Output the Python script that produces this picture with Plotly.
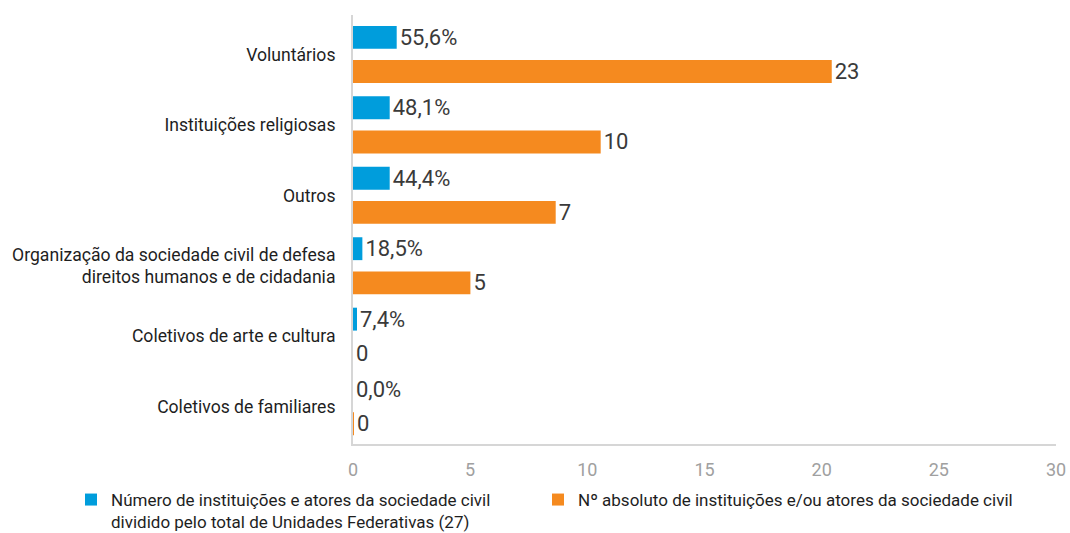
import plotly.graph_objects as go

# ---- data ----
categories = [
    "Voluntários",
    "Instituições religiosas",
    "Outros",
    "Organização da sociedade civil de defesa<br>direitos humanos e de cidadania",
    "Coletivos de arte e cultura",
    "Coletivos de familiares",
]
# bar lengths as drawn on the 0-30 axis
blue_lengths = [1.865, 1.566, 1.566, 0.40, 0.17, 0.0]
orange_lengths = [20.43, 10.57, 8.65, 5.01, 0.0, 0.04]
# labels printed next to the bars
blue_labels = ["55,6%", "48,1%", "44,4%", "18,5%", "7,4%", "0,0%"]
orange_labels = ["23", "10", "7", "5", "0", "0"]

blue_name = "Número de instituições e atores da sociedade civil<br>dividido pelo total de Unidades Federativas (27)"
orange_name = "Nº absoluto de instituições e/ou atores da sociedade civil"
x_ticks = [0, 5, 10, 15, 20, 25, 30]

BLUE = "#009ddc"
ORANGE = "#f58a1f"
FONT = "Roboto"

W, H = 1070, 533

fig = go.Figure()
fig.add_trace(go.Bar(
    y=categories, x=blue_lengths, orientation="h", name=blue_name,
    marker=dict(color=BLUE, line=dict(width=0)),
    text=blue_labels, textposition="outside", constraintext="none",
    textfont=dict(family=FONT, size=22, color="#3a3a3a"), cliponaxis=False,
    legend="legend",
))
fig.add_trace(go.Bar(
    y=categories, x=orange_lengths, orientation="h", name=orange_name,
    marker=dict(color=ORANGE, line=dict(width=0)),
    text=orange_labels, textposition="outside", constraintext="none",
    textfont=dict(family=FONT, size=22, color="#3a3a3a"), cliponaxis=False,
    legend="legend2",
))

legend_common = dict(
    orientation="h", xref="container", yref="container",
    xanchor="left", yanchor="top", valign="top",
    font=dict(family=FONT, size=17, color="#1e1e1e"),
    bgcolor="rgba(0,0,0,0)",
)

fig.update_layout(
    width=W, height=H,
    margin=dict(l=353, r=14, t=15, b=89, autoexpand=False),
    paper_bgcolor="white", plot_bgcolor="white",
    barmode="group", bargap=0.03, bargroupgap=0.33,
    font=dict(family=FONT, color="#1e1e1e"),
    xaxis=dict(
        range=[0, 30], tickvals=x_ticks, ticktext=[str(v) for v in x_ticks],
        showgrid=False, zeroline=False, showline=True, linecolor="#d6d6d6", linewidth=2,
        ticks="", ticklabelstandoff=8, automargin=False,
        tickfont=dict(family=FONT, size=18, color="#a0a0a0"),
        layer="below traces",
    ),
    yaxis=dict(
        categoryorder="array", categoryarray=categories,
        range=[5.53, -0.56],
        showgrid=False, zeroline=False, showline=True, linecolor="#d6d6d6", linewidth=2,
        ticks="", ticklabelstandoff=12, automargin=False,
        tickfont=dict(family=FONT, size=17.6, color="#1e1e1e"),
        layer="below traces",
    ),
    legend=dict(legend_common, x=71 / W, y=1 - 482 / H),
    legend2=dict(legend_common, x=538 / W, y=1 - 482 / H),
    showlegend=True,
)

# remove the default 8px page margin so the figure fills the window exactly
fig.write_html(
    "out.html",
    config={"displayModeBar": False},
    post_script="document.body.style.margin='0';",
)
